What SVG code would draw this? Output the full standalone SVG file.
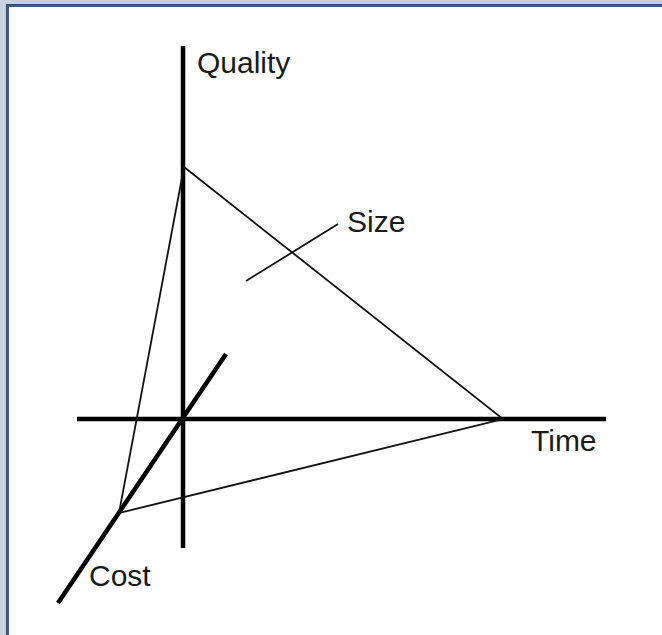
<svg xmlns="http://www.w3.org/2000/svg" width="662" height="635" viewBox="0 0 662 635">
<style>
.axis{stroke:#000;stroke-width:4.5;fill:none}
.thin{stroke:#111;stroke-width:1.8;fill:none}
.lbl{font-family:"Liberation Sans",Arial,sans-serif;font-size:30px;fill:#1a1a1a}
</style>
<g id="frame">
<rect x="0" y="0" width="662" height="635" fill="#c9d3e0"/>
<rect x="6" y="4" width="656" height="631" fill="#2b4a72"/>
<rect x="7" y="5" width="655" height="630" fill="#3f5f88"/>
<rect x="9" y="7" width="653" height="628" fill="#ffffff"/>
</g>
<g id="connectors">
<line id="quality-axis" class="axis" x1="183" y1="46" x2="183" y2="548"/>
<line id="time-axis" class="axis" x1="77" y1="419" x2="606" y2="419"/>
<line id="cost-axis" class="axis" x1="226" y1="354" x2="58" y2="603"/>
<polygon id="triangle" class="thin" points="184,167 503,419 119,513"/>
<line id="size-line" class="thin" x1="246" y1="281" x2="338" y2="224"/>
</g>
<g id="label-quality"><text class="lbl" x="197" y="73">Quality</text></g>
<g id="label-size"><text class="lbl" x="347" y="232">Size</text></g>
<g id="label-time"><text class="lbl" x="531" y="451">Time</text></g>
<g id="label-cost"><text class="lbl" x="89" y="586">Cost</text></g>
</svg>
